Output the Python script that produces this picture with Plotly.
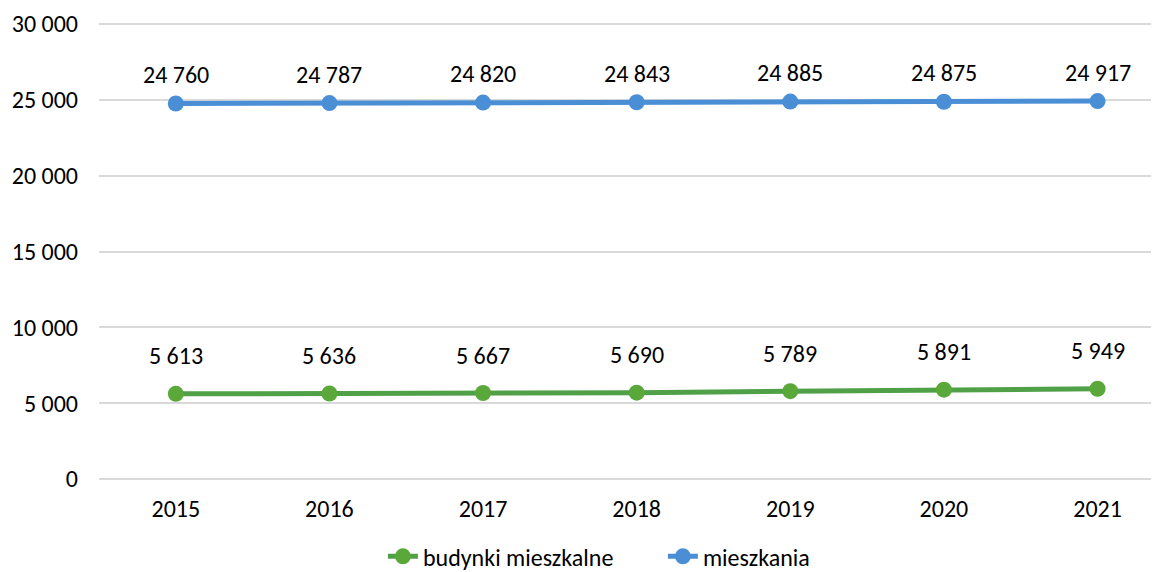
import plotly.graph_objects as go

years = ["2015", "2016", "2017", "2018", "2019", "2020", "2021"]
budynki = [5613, 5636, 5667, 5690, 5789, 5891, 5949]
mieszkania = [24760, 24787, 24820, 24843, 24885, 24875, 24917]
y_ticks = [0, 5000, 10000, 15000, 20000, 25000, 30000]

def fmt(v):
    return f"{v:,}".replace(",", " ")

FONT = "Carlito, Calibri, Lato, sans-serif"
GREEN_LINE = "#50a048"
GREEN_MARK = "#5aa83a"
BLUE = "#4a8fd6"

xi = list(range(len(years)))

fig = go.Figure()
fig.add_trace(go.Scatter(
    x=xi, y=budynki, name="budynki mieszkalne", mode="lines+markers",
    line=dict(color=GREEN_LINE, width=5),
    marker=dict(color=GREEN_MARK, size=16),
))
fig.add_trace(go.Scatter(
    x=xi, y=mieszkania, name="mieszkania", mode="lines+markers",
    line=dict(color=BLUE, width=5),
    marker=dict(color=BLUE, size=16),
))

annotations = []
for i, v in enumerate(budynki):
    annotations.append(dict(x=i, y=v, text=fmt(v), showarrow=False, yshift=38,
                            font=dict(family=FONT, size=24, color="#000000")))
for i, v in enumerate(mieszkania):
    annotations.append(dict(x=i, y=v, text=fmt(v), showarrow=False, yshift=29,
                            font=dict(family=FONT, size=24, color="#000000")))

# page body has an 8px margin, so the figure is laid out 8px up/left
fig.update_layout(
    width=1151, height=564,
    margin=dict(l=91, r=0, t=13, b=90, autoexpand=False),
    paper_bgcolor="white", plot_bgcolor="white",
    font=dict(family=FONT, size=24, color="#000000"),
    showlegend=True,
    legend=dict(orientation="h", x=0.532, xanchor="center", y=-0.162, yanchor="middle",
                font=dict(family=FONT, size=24), tracegroupgap=0,
                entrywidth=235, entrywidthmode="pixels"),
    xaxis=dict(range=[-0.5, 6.4], tickmode="array", tickvals=xi, ticktext=years,
               showgrid=False, zeroline=False, showline=False, ticks="",
               ticklabelstandoff=10, fixedrange=True),
    yaxis=dict(range=[-200, 30200], tickmode="array", tickvals=y_ticks,
               ticktext=[fmt(t) for t in y_ticks],
               showgrid=True, gridcolor="#d9d9d9", gridwidth=2,
               zeroline=False, showline=False, ticks="",
               ticklabelstandoff=20),
    annotations=annotations,
)

fig.write_html("out.html")
